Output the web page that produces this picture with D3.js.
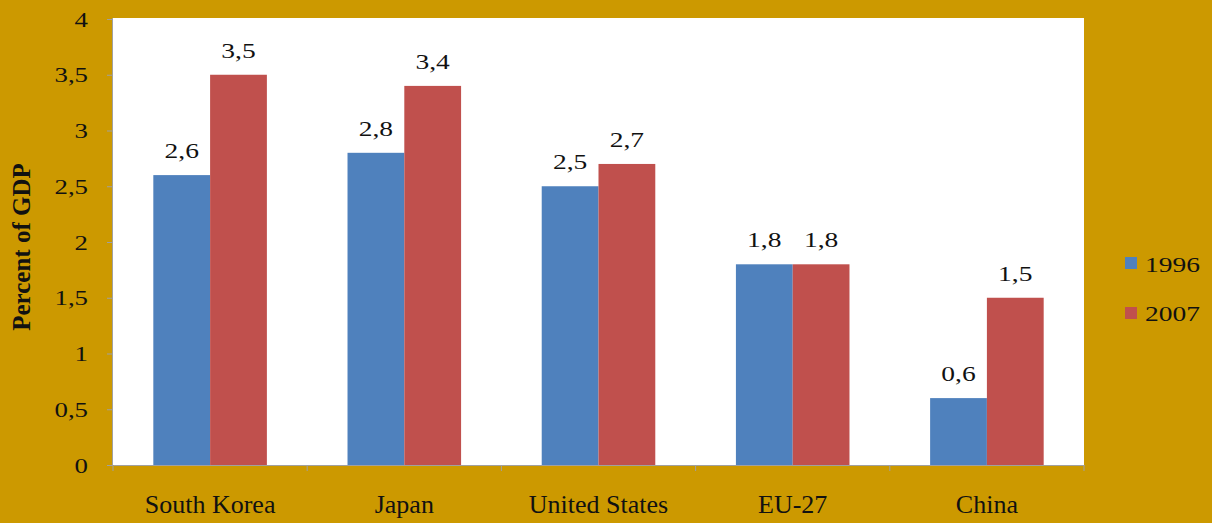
<!DOCTYPE html>
<html>
<head>
<meta charset="utf-8">
<script src="https://cdn.jsdelivr.net/npm/d3@7"></script>
<style>
  body { margin: 0; background: #CC9900; }
  svg { display: block; }
  text { font-family: "Liberation Serif", "Times New Roman", serif; fill: #111; }
</style>
</head>
<body>
<div id="chart"></div>
<script>
// data
var countries = ["South Korea", "Japan", "United States", "EU-27", "China"];
var years = ["1996", "2007"];
var values1996 = [2.6, 2.8, 2.5, 1.8, 0.6];
var values2007 = [3.5, 3.4, 2.7, 1.8, 1.5];
var yTicks = [0, 0.5, 1, 1.5, 2, 2.5, 3, 3.5, 4];

var svgWidth = 1212;
var svgHeight = 523;

var margin = { top: 19, right: 128, bottom: 58, left: 113 };
var width = svgWidth - margin.left - margin.right;
var height = svgHeight - margin.top - margin.bottom;

var colors = { "1996": "#4F81BD", "2007": "#C0504D" };
var serif = "'Liberation Serif', 'Times New Roman', serif";
var fmt = function(v) { return String(v).replace(".", ","); };

// the source picture is a bit wider than tall, so the text is stretched sideways
function stretch(sel, sx) {
  sel.each(function() {
    var t = d3.select(this);
    var x = +t.attr("x") || 0;
    var y = +t.attr("y") || 0;
    t.attr("x", 0).attr("y", 0)
      .attr("transform", `translate(${x}, ${y}) scale(${sx}, 1)`);
  });
}

var svg = d3.select("#chart")
  .append("svg")
  .attr("width", svgWidth)
  .attr("height", svgHeight);

svg.append("rect")
  .attr("width", svgWidth)
  .attr("height", svgHeight)
  .attr("fill", "#CC9900");

var chart = svg.append("g")
  .attr("transform", `translate(${margin.left}, ${margin.top})`);

// white plot area
chart.append("rect")
  .attr("x", 0)
  .attr("y", -1)
  .attr("width", width)
  .attr("height", height + 1)
  .attr("fill", "#ffffff");

// scales
var xScale = d3.scaleBand()
  .domain(countries)
  .range([0, width])
  .paddingInner(0)
  .paddingOuter(0);

var xInner = d3.scaleBand()
  .domain(years)
  .range([0, xScale.bandwidth()])
  .paddingInner(0)
  .paddingOuter(0.71);

var yScale = d3.scaleLinear()
  .domain([0, 4])
  .range([height, 0]);

var rows = countries.map(function(c, i) {
  return { country: c, "1996": values1996[i], "2007": values2007[i] };
});

// bars
var groups = chart.selectAll(".country")
  .data(rows)
  .enter()
  .append("g")
  .attr("class", "country")
  .attr("transform", d => `translate(${xScale(d.country)}, 0)`);

groups.selectAll("rect")
  .data(d => years.map(y => ({ year: y, value: d[y] })))
  .enter()
  .append("rect")
  .attr("x", d => xInner(d.year))
  .attr("y", d => yScale(d.value))
  .attr("width", xInner.bandwidth())
  .attr("height", d => height - yScale(d.value))
  .attr("fill", d => colors[d.year]);

var vals = groups.selectAll(".val")
  .data(d => years.map(y => ({ year: y, value: d[y] })))
  .enter()
  .append("text")
  .attr("class", "val")
  .attr("x", d => xInner(d.year) + xInner.bandwidth() / 2)
  .attr("y", d => yScale(d.value) - 17)
  .attr("text-anchor", "middle")
  .style("font-family", serif)
  .style("font-size", "22px")
  .text(d => fmt(d.value));
stretch(vals, 1.25);

// axes
var yAxis = d3.axisLeft(yScale)
  .tickValues(yTicks)
  .tickSize(6)
  .tickPadding(19)
  .tickFormat(fmt);

var yG = chart.append("g").call(yAxis);
yG.select(".domain").attr("stroke", "#a0a0a0").attr("d", `M-0.5,${height}V-1`);
yG.selectAll(".tick line").attr("stroke", "#a0a0a0");
var yLabels = yG.selectAll(".tick text")
  .style("font-family", serif)
  .style("font-size", "22px")
  .attr("fill", "#111");
stretch(yLabels, 1.22);

var xAxis = d3.axisBottom(xScale)
  .tickSize(0)
  .tickPadding(0)
  .tickSizeOuter(0);

var xG = chart.append("g")
  .attr("transform", `translate(0, ${height})`)
  .call(xAxis);
xG.select(".domain").attr("stroke", "#a0a0a0");
xG.selectAll(".tick text")
  .attr("y", 48)
  .attr("dy", null)
  .style("font-family", serif)
  .style("font-size", "26px")
  .attr("fill", "#111");

// category separator ticks
chart.append("g")
  .selectAll("line")
  .data(countries.concat(["end"]))
  .enter()
  .append("line")
  .attr("x1", (d, i) => i * xScale.bandwidth())
  .attr("x2", (d, i) => i * xScale.bandwidth())
  .attr("y1", height)
  .attr("y2", height + 6)
  .attr("stroke", "#a0a0a0");

// y axis title
chart.append("text")
  .attr("transform", "rotate(-90)")
  .attr("x", -(height / 2) - 5)
  .attr("y", -margin.left + 30)
  .attr("text-anchor", "middle")
  .style("font-family", serif)
  .style("font-size", "25px")
  .style("font-weight", "bold")
  .text("Percent of GDP");

// legend
var legend = svg.append("g")
  .attr("transform", "translate(1125, 257)");

legend.selectAll("rect")
  .data(years)
  .enter()
  .append("rect")
  .attr("x", 0)
  .attr("y", (d, i) => i * 50)
  .attr("width", 12)
  .attr("height", 12)
  .attr("fill", d => colors[d]);

var legText = legend.selectAll("text")
  .data(years)
  .enter()
  .append("text")
  .attr("x", 20)
  .attr("y", (d, i) => i * 49 + 15)
  .style("font-family", serif)
  .style("font-size", "22px")
  .text(d => d);
stretch(legText, 1.25);
</script>
</body>
</html>
